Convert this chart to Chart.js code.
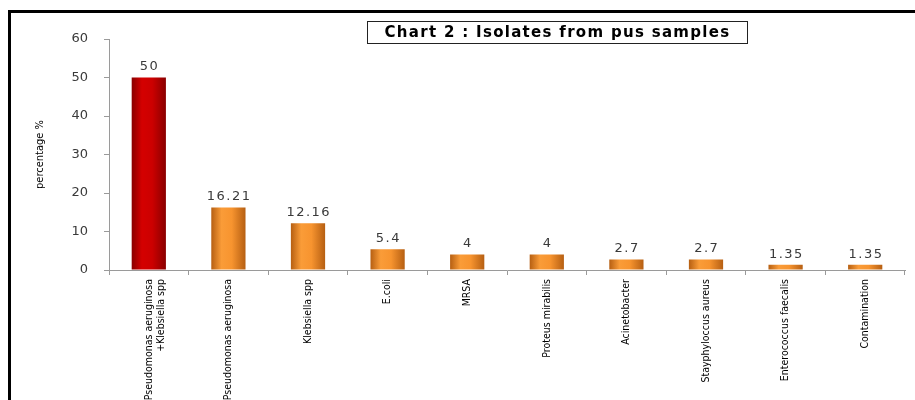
<!DOCTYPE html>
<html lang="en">
<head>
    <meta charset="UTF-8">
    <title>Chart 2 : Isolates from pus samples</title>
    <style>
        html, body { margin: 0; padding: 0; background: #fff; }
        .wrap {
            position: relative;
            width: 915px;
            height: 400px;
            overflow: hidden;
        }
        .frame {
            position: absolute;
            left: 8px;
            top: 10px;
            width: 920px;
            height: 400px;
            border-top: 3px solid #000;
            border-left: 3px solid #000;
        }
        .title {
            position: absolute;
            left: 367px;
            top: 21px;
            width: 379px;
            height: 21px;
            border: 1.5px solid #222;
            font-family: "DejaVu Sans", Verdana, sans-serif;
            font-weight: bold;
            font-size: 15px;
            letter-spacing: 1.3px;
            line-height: 21px;
            text-align: center;
            color: #000;
        }
        canvas { position: absolute; left: 0; top: 0; }
    </style>
</head>
<body>
<div class="wrap">
    <div class="frame"></div>
    <canvas id="isolateChart" width="915" height="400"></canvas>
    <div class="title">Chart 2 : Isolates from pus samples</div>
</div>

<script src="https://cdn.jsdelivr.net/npm/chart.js"></script>
<script>
    // data
    const organisms = [
        ['Pseudomonas aeruginosa', '+Klebsiella spp'],
        'Pseudomonas aeruginosa',
        'Klebsiella spp',
        'E.coli',
        'MRSA',
        'Proteus mirabilis',
        'Acinetobacter',
        'Stayphyloccus aureus',
        'Enterococcus faecalis',
        'Contamination'
    ];
    const percentages = [50, 16.21, 12.16, 5.4, 4, 4, 2.7, 2.7, 1.35, 1.35];
    const yTicks = [0, 10, 20, 30, 40, 50, 60];

    const BAR_PCT = 0.43;
    const narrow = '"DejaVu Sans Condensed", "Liberation Sans Narrow", "Arial Narrow", sans-serif';

    // cylinder-ish shading like the original excel bars
    function barFill(ctx) {
        const chart = ctx.chart;
        const red = ctx.dataIndex === 0;
        const flat = red ? '#cc0000' : '#f5922f';
        if (!chart.chartArea || !chart.scales.x) return flat;
        const xs = chart.scales.x;
        const cx = xs.getPixelForValue(ctx.dataIndex);
        const w = (xs.width / organisms.length) * BAR_PCT;
        const g = chart.ctx.createLinearGradient(cx - w / 2, 0, cx + w / 2, 0);
        if (red) {
            g.addColorStop(0, '#8a0000');
            g.addColorStop(0.3, '#d40000');
            g.addColorStop(0.6, '#cc0000');
            g.addColorStop(1, '#8a0000');
        } else {
            g.addColorStop(0, '#b65f12');
            g.addColorStop(0.3, '#fa9c38');
            g.addColorStop(0.6, '#f7942f');
            g.addColorStop(1, '#b65f12');
        }
        return g;
    }

    // value labels above the bars
    const valueLabels = {
        id: 'valueLabels',
        afterDatasetsDraw(chart) {
            const ctx = chart.ctx;
            const meta = chart.getDatasetMeta(0);
            const sp = 1.5;
            ctx.save();
            ctx.font = '13px "DejaVu Sans", Verdana, sans-serif';
            ctx.letterSpacing = sp + 'px';
            ctx.fillStyle = '#3a3a3a';
            ctx.textAlign = 'center';
            ctx.textBaseline = 'bottom';
            meta.data.forEach((bar, i) => {
                ctx.fillText(String(percentages[i]), bar.x + sp / 2, bar.y - 4);
            });
            ctx.restore();
        }
    };

    new Chart(document.getElementById('isolateChart'), {
        type: 'bar',
        data: {
            labels: organisms,
            datasets: [{
                data: percentages,
                backgroundColor: barFill,
                borderWidth: 0,
                barPercentage: BAR_PCT,
                categoryPercentage: 1
            }]
        },
        options: {
            responsive: false,
            animation: false,
            layout: { padding: { left: 0, top: 39, right: 10, bottom: 0 } },
            plugins: {
                legend: { display: false },
                tooltip: { enabled: false }
            },
            scales: {
                x: {
                    afterFit(scale) { scale.height = 130; },
                    grid: {
                        offset: true,
                        drawOnChartArea: false,
                        tickLength: 5,
                        color: '#9a9a9a'
                    },
                    border: { color: '#9a9a9a', width: 1 },
                    ticks: {
                        autoSkip: false,
                        minRotation: 90,
                        maxRotation: 90,
                        padding: 4,
                        color: '#000',
                        font: { family: narrow, size: 10.5 }
                    }
                },
                y: {
                    min: 0,
                    max: 60,
                    afterFit(scale) { scale.width = 109; },
                    afterBuildTicks(scale) {
                        scale.ticks = yTicks.map(v => ({ value: v }));
                    },
                    grid: {
                        drawOnChartArea: false,
                        tickLength: 5,
                        color: '#9a9a9a'
                    },
                    border: { color: '#9a9a9a', width: 1 },
                    ticks: {
                        padding: 16,
                        color: '#3a3a3a',
                        font: { family: '"DejaVu Sans", Verdana, sans-serif', size: 13 }
                    },
                    title: {
                        display: true,
                        text: 'percentage %',
                        color: '#000',
                        padding: { top: 34 },
                        font: { family: narrow, size: 11 }
                    }
                }
            }
        },
        plugins: [valueLabels]
    });
</script>
</body>
</html>
